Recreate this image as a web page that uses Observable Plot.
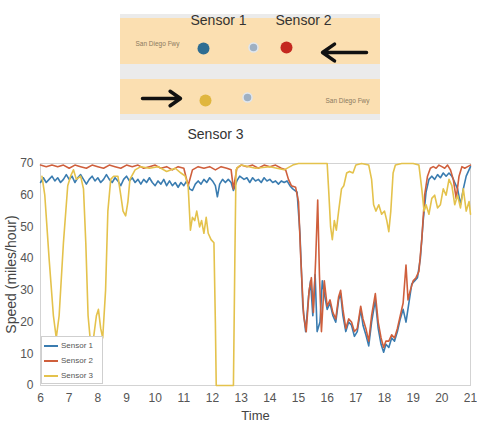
<!DOCTYPE html>
<html>
<head>
<meta charset="utf-8">
<script src="https://cdn.jsdelivr.net/npm/d3@7"></script>
<script src="https://cdn.jsdelivr.net/npm/@observablehq/plot@0.6"></script>
<style>
  html, body { margin: 0; padding: 0; background: #fff; }
  #wrap { position: relative; width: 477px; height: 425px; overflow: hidden; background: #fff; }
  #wrap svg { display: block; overflow: visible; }
  #legend { position: absolute; left: 41px; top: 336px; width: 62px; height: 48px; background: #fff;
            border: 1px solid #cfcfcf; box-sizing: border-box; font-family: "Liberation Sans Narrow", "Liberation Sans", sans-serif;
            font-size: 8px; color: #555; }
  #legend .row { position: absolute; left: 2px; height: 10px; line-height: 10px; white-space: nowrap; }
  #legend .sw { display: inline-block; width: 14px; height: 0; border-top: 2px solid; vertical-align: middle; margin-right: 3px; }
</style>
</head>
<body>
<div id="wrap"></div>
<script>
// ---------- chart data (hour of day, speed in miles/hour) ----------
const seriesNames = ["Sensor 1", "Sensor 2", "Sensor 3"];
const seriesColors = ["#3a7cb0", "#cf5f3c", "#e4c24c"];
const xTicks = [6,7,8,9,10,11,12,13,14,15,16,17,18,19,20,21];
const yTicks = [0,10,20,30,40,50,60,70];

const sensor1 = [
 [6.0,64],[6.1,65.5],[6.2,64],[6.3,65],[6.4,66],[6.5,64.5],[6.6,65.5],[6.7,64],[6.8,65],[6.9,66.5],
 [7.0,65],[7.1,66],[7.2,64],[7.3,65.5],[7.4,66.5],[7.5,65],[7.6,63.5],[7.7,65],[7.8,66],[7.9,64.5],
 [8.0,65.5],[8.1,64],[8.2,65],[8.3,66.5],[8.4,65],[8.5,64],[8.6,65.5],[8.7,64.5],[8.8,63],[8.9,65],
 [9.0,66],[9.1,64.5],[9.2,65.5],[9.3,64],[9.4,65],[9.5,63.5],[9.6,65],[9.7,64],[9.8,65.5],[9.9,64],
 [10.0,63],[10.1,64.5],[10.2,63.5],[10.3,65],[10.4,63],[10.5,64.5],[10.6,63],[10.7,64],[10.8,62.5],[10.9,64],
 [11.0,63],[11.1,64.5],[11.2,62],[11.3,61.5],[11.4,63.5],[11.5,64.5],[11.6,63.5],[11.7,65],[11.8,64],[11.9,65.5],
 [12.0,64.5],[12.1,63],[12.17,59.5],[12.25,63.5],[12.35,65],[12.45,64],[12.55,65],[12.65,64],[12.73,61.5],[12.85,64.5],
 [12.95,66],[13.1,65],[13.2,65.5],[13.3,64],[13.4,65.5],[13.5,64.5],[13.6,65],[13.7,64],[13.8,65.5],[13.9,64.5],
 [14.0,65],[14.1,64],[14.2,64.5],[14.3,63.5],[14.4,64.5],[14.5,64],[14.6,64.5],[14.7,63],[14.8,62],[14.95,61],
 [15.05,48],[15.15,25],[15.25,17],[15.35,28],[15.42,33],[15.5,22],[15.58,35],[15.65,17],[15.75,20],[15.83,33],
 [15.92,28],[16.0,24],[16.1,26],[16.2,22],[16.3,20],[16.4,27],[16.47,29],[16.55,22],[16.65,17],[16.75,20],
 [16.85,19],[16.95,15.5],[17.05,17],[17.17,24],[17.25,19],[17.35,16],[17.45,12.5],[17.55,20],[17.68,27],[17.78,18],
 [17.88,13],[17.97,10.5],[18.05,13],[18.15,12],[18.25,15],[18.35,14],[18.45,17],[18.55,21],[18.65,24],[18.75,20],
 [18.85,26],[18.95,32],[19.05,33],[19.15,34],[19.25,40],[19.35,52],[19.45,61],[19.55,65],[19.65,66],[19.75,65],
 [19.85,66.5],[19.95,65.5],[20.05,67],[20.15,66],[20.25,67],[20.35,66],[20.45,64],[20.55,62],[20.65,57],[20.75,62],
 [20.85,66],[21.0,69]
];
const sensor2 = [
 [6.0,69.5],[6.2,69],[6.4,69.5],[6.6,69],[6.8,69.5],[7.0,68.5],[7.2,69.5],[7.4,69],[7.6,68.5],[7.8,69.5],
 [8.0,69],[8.2,68.5],[8.4,69.5],[8.6,69],[8.8,68.5],[9.0,69.5],[9.2,69],[9.4,69.5],[9.6,68.5],[9.8,69],
 [10.0,69.5],[10.2,68.5],[10.4,69],[10.6,68],[10.8,69],[11.0,68.5],[11.15,63],[11.3,68],[11.5,69],[11.7,68.5],
 [11.9,69],[12.1,68],[12.3,69],[12.5,68.5],[12.65,68],[12.73,62],[12.85,68.5],[13.0,69.5],[13.2,69],[13.4,69.5],
 [13.6,68.5],[13.8,69.5],[14.0,69],[14.2,69.5],[14.4,68.5],[14.55,68],[14.65,65],[14.75,63],[14.9,62.5],[15.0,58],
 [15.08,40],[15.18,22],[15.27,17],[15.37,30],[15.45,34],[15.52,23],[15.6,40],[15.67,58.5],[15.73,35],[15.8,17],
 [15.9,33],[16.0,25],[16.1,27],[16.2,23],[16.3,21],[16.4,28],[16.47,30],[16.55,24],[16.65,18],[16.75,21],
 [16.85,20],[16.95,17],[17.05,18],[17.17,25],[17.25,21],[17.35,18],[17.45,14],[17.55,22],[17.68,29],[17.78,20],
 [17.88,15],[17.97,12],[18.05,14],[18.15,14],[18.25,16],[18.35,15],[18.45,18],[18.55,22],[18.65,26],[18.75,38],
 [18.82,27],[18.9,30],[19.0,33],[19.1,34],[19.2,36],[19.3,46],[19.4,60],[19.5,66],[19.6,68.5],[19.7,69],
 [19.8,68.5],[19.9,69.5],[20.0,69],[20.1,68.5],[20.2,69.5],[20.3,68],[20.4,65],[20.5,59],[20.6,66],[20.7,69],
 [20.8,68.5],[20.9,69],[21.0,69.5]
];
const sensor3 = [
 [6.05,66],[6.15,60],[6.3,40],[6.45,22],[6.55,15],[6.65,22],[6.8,45],[6.95,63],[7.05,66],[7.15,68],
 [7.25,65],[7.4,66],[7.5,62],[7.58,45],[7.66,22],[7.73,15],[7.85,15],[7.95,22],[8.02,24],[8.1,18],
 [8.17,15],[8.27,30],[8.35,55],[8.45,65],[8.55,66],[8.7,66],[8.8,60],[8.88,55],[8.97,53.5],[9.05,58],
 [9.12,65],[9.3,68],[9.5,69],[9.8,68.5],[10.1,69],[10.4,67.5],[10.7,68.5],[10.9,67],[11.05,66],[11.15,63],
 [11.23,49],[11.3,53],[11.38,52],[11.45,55],[11.55,50],[11.62,52],[11.7,48],[11.78,53],[11.85,48],[11.95,46],
 [12.05,45],[12.1,20],[12.13,0],[12.73,0],[12.78,40],[12.82,68],[12.9,69],[13.0,69.5],[13.5,68.5],[14.0,69],
 [14.5,68],[14.8,69.5],[15.0,70],[15.5,70],[16.0,70],[16.05,62],[16.12,50],[16.18,46],[16.25,52],[16.32,49],
 [16.4,55],[16.5,62],[16.58,63],[16.68,67],[16.78,67.5],[16.9,67],[17.0,69.5],[17.2,70],[17.45,69.5],[17.55,65],
 [17.62,57],[17.7,55],[17.8,57],[17.9,54],[18.0,55],[18.08,52],[18.15,48.5],[18.22,55],[18.3,67],[18.38,69.5],
 [18.6,70],[19.0,70],[19.2,69.5],[19.3,62],[19.38,55],[19.45,57],[19.55,54],[19.65,59],[19.75,60],[19.85,56],
 [19.95,57],[20.05,62],[20.15,60],[20.25,65],[20.35,63],[20.45,57],[20.55,60],[20.65,56],[20.75,62],[20.85,55],
 [20.95,58],[21.0,54]
];

// ---------- road diagram layout data (diagram units: x along road, y across) ----------
const roadBase = [{x1: 120, x2: 380, y1: 14, y2: 120}];
const roadLanes = [{x1: 120, x2: 380, y1: 18, y2: 64}, {x1: 120, x2: 380, y1: 79, y2: 114}];
const sensorDots = [
  {x: 203, y: 48, fill: "#2e6d92"},
  {x: 286, y: 47, fill: "#c4281f"},
  {x: 205, y: 100, fill: "#e0b63e"}
];
const otherDots = [{x: 253, y: 47}, {x: 247, y: 97}];
const sensorLabels = [
  {x: 218, y: 20, text: "Sensor 1"},
  {x: 303, y: 20, text: "Sensor 2"},
  {x: 215, y: 134, text: "Sensor 3"}
];
const roadNames = [{x: 157, y: 43, text: "San Diego Fwy"}, {x: 347, y: 100, text: "San Diego Fwy"}];
const flowArrows = [{x1: 366, y1: 52, x2: 322, y2: 52}, {x1: 142, y1: 98, x2: 180, y2: 98}];

const narrow = "'Liberation Sans Narrow', 'Liberation Sans', 'DejaVu Sans Condensed', sans-serif";

const diagram = Plot.plot({
  width: 477, height: 145, margin: 0,
  x: {domain: [0, 477], axis: null},
  y: {domain: [0, 145], range: [0, 145], axis: null},
  style: {background: "#fff", fontFamily: narrow},
  marks: [
    Plot.rect(roadBase, {x1: "x1", x2: "x2", y1: "y1", y2: "y2", fill: "#ebebeb"}),
    Plot.rect(roadLanes, {x1: "x1", x2: "x2", y1: "y1", y2: "y2", fill: "#fbdfb1"}),
    Plot.dot(sensorDots, {x: "x", y: "y", r: 6, fill: "fill"}),
    Plot.dot(otherDots, {x: "x", y: "y", r: 4.5, fill: "#9fb0c2", stroke: "#dfe6ee", strokeWidth: 1.5}),
    Plot.arrow(flowArrows, {x1: "x1", y1: "y1", x2: "x2", y2: "y2", stroke: "#111", strokeWidth: 3.5, headLength: 11, headAngle: 70}),
    Plot.text(sensorLabels, {x: "x", y: "y", text: "text", fontSize: 14, fill: "#333"}),
    Plot.text(roadNames, {x: "x", y: "y", text: "text", fontSize: 6.5, fill: "#8a7a60"})
  ]
});

const toRows = (arr) => arr.map(([t, v]) => ({t, v}));

const chart = Plot.plot({
  width: 477, height: 280,
  marginTop: 18, marginBottom: 40, marginLeft: 40, marginRight: 7,
  x: {domain: [6, 21], ticks: xTicks, tickSize: 0, tickPadding: 8, label: null, tickFormat: d => String(d)},
  y: {domain: [0, 70], ticks: yTicks, tickSize: 0, tickPadding: 7, label: null},
  style: {background: "#fff", fontFamily: narrow, fontSize: "12px", color: "#555"},
  marks: [
    Plot.frame({stroke: "#d3d3d3"}),
    Plot.line(toRows(sensor1), {x: "t", y: "v", stroke: seriesColors[0], strokeWidth: 1.6}),
    Plot.line(toRows(sensor2), {x: "t", y: "v", stroke: seriesColors[1], strokeWidth: 1.6}),
    Plot.line(toRows(sensor3), {x: "t", y: "v", stroke: seriesColors[2], strokeWidth: 1.6}),
    Plot.text(["Time"], {frameAnchor: "bottom", dy: 30, fontSize: 13, fill: "#444", lineAnchor: "middle"}),
    Plot.text(["Speed (miles/hour)"], {frameAnchor: "left", dx: -29, rotate: -90, textAnchor: "middle", fontSize: 14, fill: "#444"})
  ]
});

const wrap = document.getElementById("wrap");
wrap.appendChild(diagram);
wrap.appendChild(chart);

const legend = document.createElement("div");
legend.id = "legend";
seriesNames.forEach((name, i) => {
  const row = document.createElement("div");
  row.className = "row";
  row.style.top = (4 + i * 15) + "px";
  const sw = document.createElement("span");
  sw.className = "sw";
  sw.style.borderTopColor = seriesColors[i];
  row.appendChild(sw);
  row.appendChild(document.createTextNode(name));
  legend.appendChild(row);
});
wrap.appendChild(legend);
</script>
</body>
</html>
